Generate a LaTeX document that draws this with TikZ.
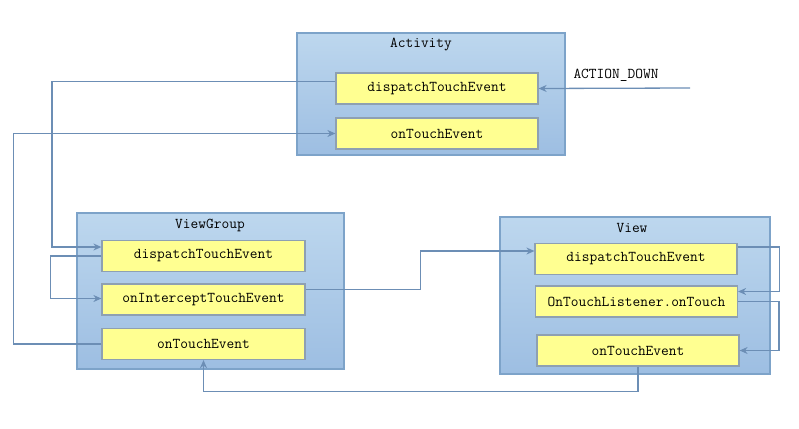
\documentclass[tikz,border=0pt]{standalone}
\usepackage{fontspec}
\usepackage{tikz}
\usetikzlibrary{arrows.meta}
\usetikzlibrary{positioning}
\definecolor{panel}{RGB}{189,215,238}
\definecolor{paneldark}{RGB}{157,190,226}
\definecolor{panelline}{RGB}{125,163,201}
\definecolor{method}{RGB}{255,255,145}
\definecolor{methodline}{RGB}{142,160,178}
\definecolor{flowline}{RGB}{108,142,181}

\begin{document}
\begin{tikzpicture}[x=1pt, y=-1pt,
    every node/.style={font=\ttfamily\fontsize{15}{17}\selectfont},
    layer/.style={draw=panelline, line width=1.6pt, top color=panel, bottom color=paneldark, inner sep=0pt},
    method/.style={draw=methodline, line width=1.2pt, fill=method, minimum width=202pt, minimum height=31pt, inner sep=0pt},
    flow/.style={draw=flowline, line width=1.3pt, -{Stealth[length=8pt,width=7pt]}}]

    \useasboundingbox (0,0) rectangle (799,428);

    % Activity
    \node[layer, minimum width=268pt, minimum height=122pt] (act) at (431,94) {};
    \node (acttitle) at (421,45) {Activity};
    \node[method] (actdisp) at (437,88.5) {dispatchTouchEvent};
    \node[method] (acttouch) at (437,133.5) {onTouchEvent};

    % ViewGroup
    \node[layer, minimum width=267pt, minimum height=156pt] (vg) at (210.5,291) {};
    \node (vgtitle) at (210,225) {ViewGroup};
    \node[method, minimum width=203pt] (vgdisp) at (203.5,256) {dispatchTouchEvent};
    \node[method, minimum width=203pt] (vgint) at (203.5,299.5) {onInterceptTouchEvent};
    \node[method, minimum width=203pt] (vgtouch) at (203.5,344) {onTouchEvent};

    % View
    \node[layer, minimum width=270pt, minimum height=157pt] (view) at (635,295.5) {};
    \node (viewtitle) at (632,228) {View};
    \node[method] (vdisp) at (636,259) {dispatchTouchEvent};
    \node[method] (vlisten) at (636.5,301.5) {OnTouchListener.onTouch};
    \node[method] (vtouch) at (638,350.5) {onTouchEvent};

    % input event
    \coordinate (down) at (690,88);
    \node (downlabel) at (616,75) {ACTION\_DOWN};
    \draw[flow] (down) -- (actdisp.east);

    % connectors
    \draw[flow] ([yshift=7pt]actdisp.west) -| (52,200) |- ([yshift=9pt]vgdisp.west);
    \draw[flow] (vgdisp.west) -- ++(-51,0) |- ([yshift=1pt]vgint.west);
    \draw[flow] (vgtouch.west) -- ++(-88,0) |- (acttouch.west);
    \draw[flow] ([yshift=10pt]vgint.east) -- ++(115,0) |- ([yshift=8pt]vdisp.west);
    \draw[flow] ([yshift=12pt]vdisp.east) -- ++(42,0) |- ([yshift=10pt]vlisten.east);
    \draw[flow] (vlisten.east) -- ++(41,0) |- (vtouch.east);
    \draw[flow] (vtouch.south) -- ++(0,25) -| (vgtouch.south);

\end{tikzpicture}
\end{document}
